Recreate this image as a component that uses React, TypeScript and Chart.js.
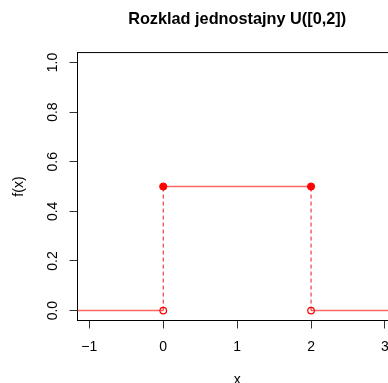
import React, { useEffect, useRef } from "react";
import { Chart, registerables } from "chart.js";

Chart.register(...registerables);

// ---- data ----
const titleText = "Rozklad jednostajny U([0,2])";
const xAxisLabel = "x";
const yAxisLabel = "f(x)";
const xTicks = [-1, 0, 1, 2, 3];
const xTickLabels = ["\u22121", "0", "1", "2", "3"];
const yTicks = [0, 0.2, 0.4, 0.6, 0.8, 1.0];
const yTickLabels = ["0.0", "0.2", "0.4", "0.6", "0.8", "1.0"];
const xRange = [-1.16, 3.16];
const yRange = [-0.04, 1.04];

const leftSegX = [-2, 0];
const leftSegY = [0, 0];
const midSegX = [0, 2];
const midSegY = [0.5, 0.5];
const rightSegX = [2, 4];
const rightSegY = [0, 0];
const jump1X = [0, 0];
const jump1Y = [0, 0.5];
const jump2X = [2, 2];
const jump2Y = [0, 0.5];
const filledX = [0, 2];
const filledY = [0.5, 0.5];
const openX = [0, 2];
const openY = [0, 0];

const zip = (xs: number[], ys: number[]) => xs.map((x, i) => ({ x, y: ys[i] }));

const FONT = "'Liberation Sans', Arial, Helvetica, sans-serif";
const LINE_RED = "rgba(255,40,40,0.7)";

export default function App() {
  const ref = useRef<HTMLCanvasElement | null>(null);

  useEffect(() => {
    if (!ref.current) return;
    const boxPlugin = {
      id: "box",
      beforeDatasetsDraw(chart: any) {
        const { ctx, chartArea } = chart;
        ctx.save();
        ctx.strokeStyle = "#000";
        ctx.lineWidth = 1;
        ctx.strokeRect(chartArea.left, chartArea.top, chartArea.right - chartArea.left, chartArea.bottom - chartArea.top);
        ctx.restore();
      },
    };
    const lineDs = (xs: number[], ys: number[]) => ({
      data: zip(xs, ys),
      showLine: true,
      borderColor: LINE_RED,
      borderWidth: 1.5,
      pointRadius: 0,
      order: 3,
    });
    const dashDs = (xs: number[], ys: number[]) => ({
      data: zip(xs, ys),
      showLine: true,
      borderColor: "rgba(230,0,0,0.9)",
      borderWidth: 1,
      borderDash: [4, 3],
      pointRadius: 0,
      order: 2,
    });
    const chart = new Chart(ref.current, {
      type: "scatter",
      data: {
        datasets: [
          lineDs(leftSegX, leftSegY),
          lineDs(midSegX, midSegY),
          lineDs(rightSegX, rightSegY),
          dashDs(jump1X, jump1Y),
          dashDs(jump2X, jump2Y),
          {
            data: zip(openX, openY),
            pointRadius: 3.3,
            pointBorderWidth: 1.2,
            borderColor: "#ff0000",
            backgroundColor: "rgba(0,0,0,0)",
            pointBackgroundColor: "rgba(0,0,0,0)",
            pointBorderColor: "#ff0000",
            order: 1,
          } as any,
          {
            data: zip(filledX, filledY),
            pointRadius: 3.6,
            pointBorderWidth: 1,
            borderColor: "#ff0000",
            backgroundColor: "#ff0000",
            pointBackgroundColor: "#ff0000",
            pointBorderColor: "#ff0000",
            order: 0,
          } as any,
        ],
      },
      options: {
        animation: false,
        responsive: false,
        devicePixelRatio: 1,
        layout: { padding: { left: 0, right: 23.2, top: 0, bottom: 0 } },
        plugins: {
          legend: { display: false },
          tooltip: { enabled: false },
          title: {
            display: true,
            text: titleText,
            fullSize: false,
            color: "#000",
            font: { family: FONT, size: 16.3, weight: "bold" },
            padding: { top: 9.6, bottom: 23.4 },
          },
        },
        scales: {
          x: {
            type: "linear",
            min: xRange[0],
            max: xRange[1],
            afterBuildTicks: (s: any) => {
              s.ticks = xTicks.map((v) => ({ value: v }));
            },
            afterFit: (s: any) => {
              s.height = 79.5;
            },
            ticks: {
              color: "#000",
              font: { family: FONT, size: 14 },
              padding: 10,
              maxRotation: 0,
              autoSkip: false,
              callback: (v: any) => {
                const i = xTicks.indexOf(Number(v));
                return i >= 0 ? xTickLabels[i] : "";
              },
            },
            grid: { drawOnChartArea: false, drawTicks: true, tickLength: 8, color: "#333", lineWidth: 1 },
            border: { display: false },
            title: {
              display: true,
              text: xAxisLabel,
              color: "#000",
              font: { family: FONT, size: 14 },
              padding: { top: 0, bottom: 11.8 },
            },
          },
          y: {
            type: "linear",
            min: yRange[0],
            max: yRange[1],
            afterBuildTicks: (s: any) => {
              s.ticks = yTicks.map((v) => ({ value: v }));
            },
            afterFit: (s: any) => {
              s.width = 77.5;
            },
            ticks: {
              color: "#000",
              font: { family: FONT, size: 14 },
              padding: 7,
              minRotation: 90,
              maxRotation: 90,
              crossAlign: "center",
              autoSkip: false,
              callback: (v: any) => {
                const i = yTicks.findIndex((t) => Math.abs(t - Number(v)) < 1e-9);
                return i >= 0 ? yTickLabels[i] : "";
              },
            },
            grid: { drawOnChartArea: false, drawTicks: true, tickLength: 8, color: "#333", lineWidth: 1 },
            border: { display: false },
            title: {
              display: true,
              text: yAxisLabel,
              color: "#000",
              font: { family: FONT, size: 14 },
              padding: { top: 10.4, bottom: 0 },
            },
          },
        },
      },
      plugins: [boxPlugin],
    } as any);
    return () => chart.destroy();
  }, []);

  return (
    <div style={{ position: "fixed", left: 0, top: 0, width: 388, height: 383, overflow: "hidden", background: "#fff" }}>
      <canvas ref={ref} width={420} height={400} style={{ display: "block", width: 420, height: 400 }} />
    </div>
  );
}
